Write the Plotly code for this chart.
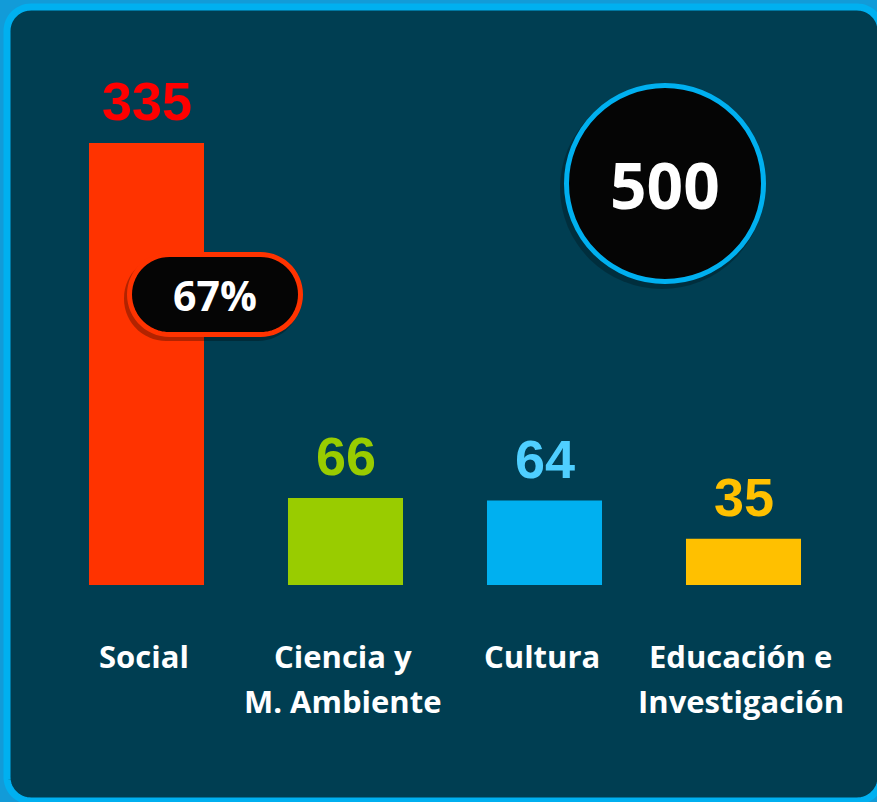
import numpy as np
import plotly.graph_objects as go

# ---- data ----
categories = ["Social", "Ciencia y<br>M. Ambiente", "Cultura", "Educación e<br>Investigación"]
values = [335, 66, 64, 35]
bar_colors = ["#FF3300", "#99CC00", "#00B0F0", "#FFC000"]
label_colors = ["#FF0000", "#99CC00", "#4FCFFF", "#FFC000"]
total_label = "500"
share_label = "67%"

W, H = 877, 802
BG = "#003E52"


def px(x):
    return x / W


def py(y):
    return 1 - y / H


def rounded_rect_path(x0, y0, x1, y1, r, n=16):
    pts = []
    corners = [
        (x1 - r, y0 + r, -np.pi / 2, 0),
        (x1 - r, y1 - r, 0, np.pi / 2),
        (x0 + r, y1 - r, np.pi / 2, np.pi),
        (x0 + r, y0 + r, np.pi, 1.5 * np.pi),
    ]
    for cx, cy, a0, a1 in corners:
        for t in np.linspace(a0, a1, n):
            pts.append((cx + r * np.cos(t), cy + r * np.sin(t)))
    d = "M " + " L ".join(f"{px(a):.5f},{py(b):.5f}" for a, b in pts) + " Z"
    return d


fig = go.Figure()
fig.add_trace(go.Bar(
    x=categories, y=values,
    marker=dict(color=bar_colors, line=dict(width=0)),
    width=0.578,
    hoverinfo="skip",
))

annotations = []
# value labels
for c, v, col in zip(categories, values, label_colors):
    annotations.append(dict(
        x=c, y=v, xref="x", yref="y", text=str(v), showarrow=False,
        xanchor="center", yanchor="bottom", yshift=10,
        font=dict(family="Liberation Sans, Arial", size=54, color=col, weight="bold"),
    ))
# category labels (one annotation per line)
for c in categories:
    for i, line in enumerate(c.split("<br>")):
        annotations.append(dict(
            x=c, y=py(656 + 45 * i), xref="x", yref="paper", text=line,
            showarrow=False, xanchor="center", yanchor="middle", xshift=-3,
            font=dict(family="Open Sans", size=31, color="white", weight="bold"),
        ))
# circle total
annotations.append(dict(
    x=px(665), y=py(184), xref="paper", yref="paper", text=total_label,
    showarrow=False, xanchor="center", yanchor="middle",
    font=dict(family="Open Sans", size=64, color="white", weight="bold"),
))
# pill share
annotations.append(dict(
    x=px(215), y=py(295), xref="paper", yref="paper", text=share_label,
    showarrow=False, xanchor="center", yanchor="middle",
    font=dict(family="Open Sans", size=41, color="white", weight="bold"),
))

shapes = [
    # panel with rounded border
    dict(type="path", xref="paper", yref="paper", layer="below",
         path=rounded_rect_path(7, 7, 881, 801, 24),
         fillcolor=BG, line=dict(color="#00B0F0", width=7)),
    # circle shadow
    dict(type="circle", xref="paper", yref="paper",
         x0=px(560), x1=px(764), y0=py(289), y1=py(87),
         fillcolor="rgba(0,0,0,0.25)", line=dict(width=0)),
    # circle
    dict(type="circle", xref="paper", yref="paper",
         x0=px(566.5), x1=px(763.5), y0=py(281.5), y1=py(85.5),
         fillcolor="#050505", line=dict(color="#00B0F0", width=5)),
    # pill shadow
    dict(type="path", xref="paper", yref="paper",
         path=rounded_rect_path(124, 256, 300, 341, 42),
         fillcolor="rgba(0,0,0,0.3)", line=dict(width=0)),
    # pill
    dict(type="path", xref="paper", yref="paper",
         path=rounded_rect_path(129.5, 254.5, 300.5, 334.5, 40),
         fillcolor="#050505", line=dict(color="#FF3300", width=5)),
]

fig.update_layout(
    width=W, height=H,
    margin=dict(l=0, r=0, t=0, b=0),
    paper_bgcolor="#129BD8",
    plot_bgcolor="rgba(0,0,0,0)",
    showlegend=False,
    bargap=0.42,
    xaxis=dict(domain=[px(47), px(843)], range=[-0.5, 3.5], showticklabels=False,
               showgrid=False, zeroline=False, showline=False, ticks="", fixedrange=True),
    yaxis=dict(domain=[py(585), 1], range=[0, 585 / (442 / 335)], showticklabels=False,
               showgrid=False, zeroline=False, showline=False, ticks="", fixedrange=True),
    annotations=annotations,
    shapes=shapes,
)

fig.write_html(
    "out.html",
    config={"displayModeBar": False},
    post_script="document.body.style.margin='0';document.body.style.overflow='hidden';",
)
